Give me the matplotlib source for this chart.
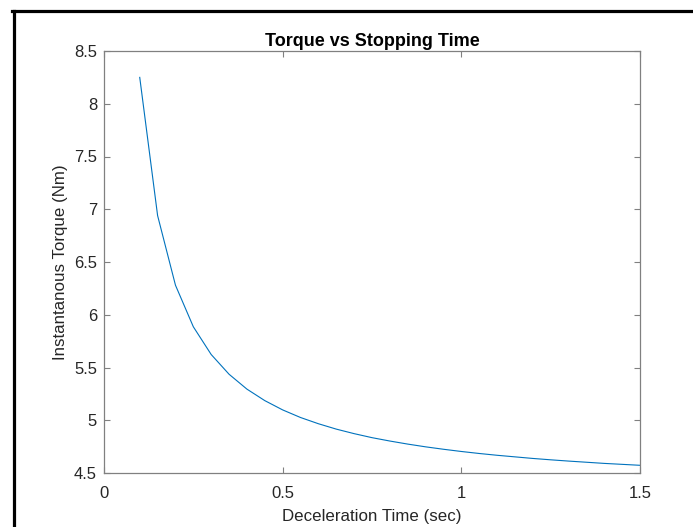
"""Torque vs stopping time, MATLAB-style figure."""

import matplotlib

matplotlib.use("Agg")

import matplotlib.pyplot as plt
from matplotlib.lines import Line2D

plt.rcParams["font.family"] = ["Liberation Sans", "DejaVu Sans"]

decel_time = [
    0.10, 0.15, 0.20, 0.25, 0.30, 0.35, 0.40, 0.45, 0.50, 0.55,
    0.60, 0.65, 0.70, 0.75, 0.80, 0.85, 0.90, 0.95, 1.00, 1.05,
    1.10, 1.15, 1.20, 1.25, 1.30, 1.35, 1.40, 1.45, 1.50,
]
torque = [
    8.25, 6.94, 6.28, 5.886, 5.623, 5.436, 5.295, 5.186, 5.098, 5.026,
    4.967, 4.916, 4.873, 4.835, 4.803, 4.774, 4.748, 4.725, 4.704, 4.685,
    4.668, 4.653, 4.638, 4.625, 4.613, 4.602, 4.591, 4.582, 4.573,
]
x_ticks = [0, 0.5, 1, 1.5]
x_tick_labels = ["0", "0.5", "1", "1.5"]
y_ticks = [4.5, 5, 5.5, 6, 6.5, 7, 7.5, 8, 8.5]
y_tick_labels = ["4.5", "5", "5.5", "6", "6.5", "7", "7.5", "8", "8.5"]

W, H = 693, 527
figure = plt.figure(figsize=(W / 100, H / 100), dpi=100)
axis = figure.add_axes([104 / W, (H - 473) / H, 536 / W, 422 / H])

axis.plot(decel_time, torque, color="#0072BD", linewidth=0.8)
axis.set_xlim(0, 1.5)
axis.set_ylim(4.5, 8.5)
axis.set_xticks(x_ticks, x_tick_labels)
axis.set_yticks(y_ticks, y_tick_labels)
axis.tick_params(
    direction="in", length=4, width=0.8, color="#808080",
    labelcolor="#262626", labelsize=12,
    top=True, right=True,
)
axis.tick_params(axis="x", pad=9)
axis.tick_params(axis="y", pad=5)
for spine in axis.spines.values():
    spine.set_color("#808080")
    spine.set_linewidth(0.9)

axis.set_title("Torque vs Stopping Time", fontsize=13, fontweight="bold",
               color="black", pad=3.5)
axis.set_xlabel("Deceleration Time (sec)", fontsize=12.2, color="#262626", labelpad=6)
axis.set_ylabel("Instantanous Torque (Nm)", fontsize=12.2, color="#262626", labelpad=4)

# screenshot frame (left and top edges of the window)
figure.add_artist(Line2D([13.5 / W, 13.5 / W], [0, (H - 11) / H],
                         transform=figure.transFigure, color="black", linewidth=2.3))
figure.add_artist(Line2D([12.5 / W, 1], [(H - 11) / H, (H - 11) / H],
                         transform=figure.transFigure, color="black", linewidth=2.3))

figure.savefig("out.png", dpi=100)
